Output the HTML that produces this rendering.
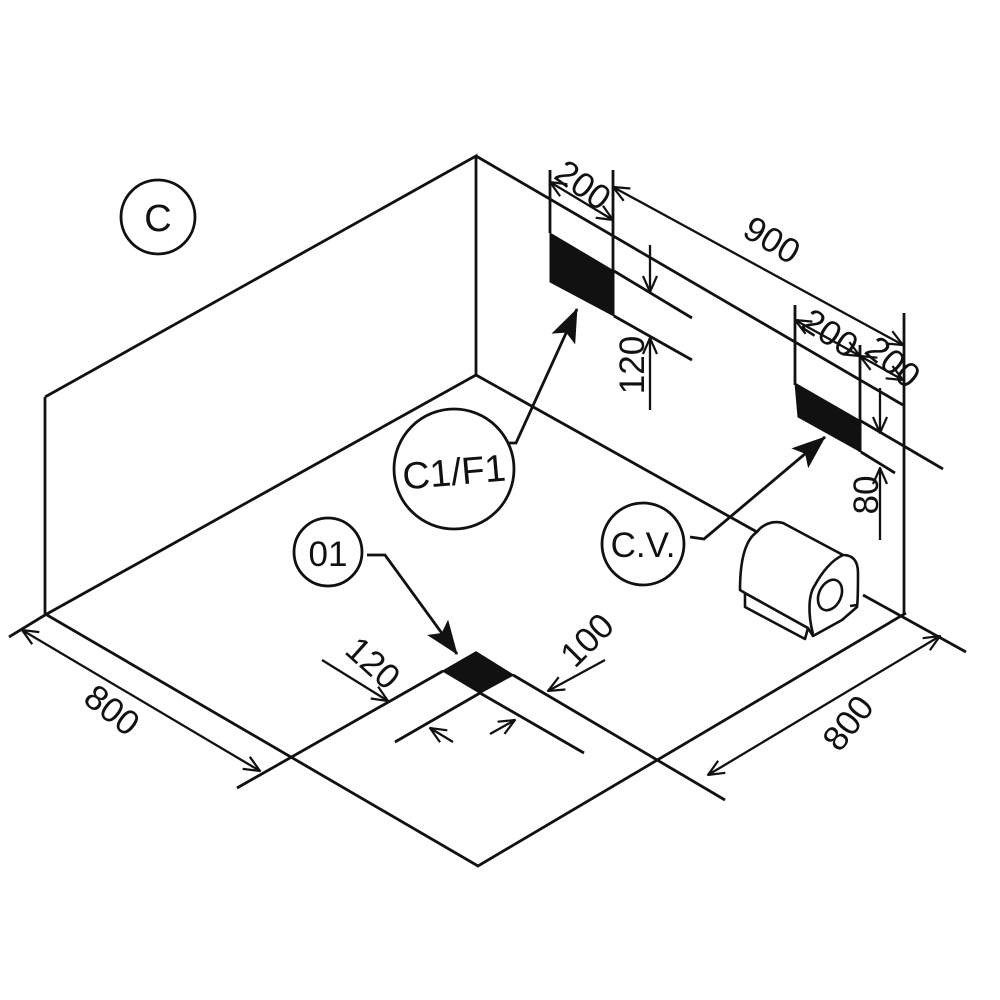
<!DOCTYPE html>
<html><head><meta charset="utf-8"><style>
html,body{margin:0;padding:0;background:#fff;}
svg{display:block;}
text{font-family:"Liberation Sans",sans-serif;fill:#111;}
</style></head><body>
<svg width="1000" height="1000" viewBox="0 0 1000 1000" xmlns="http://www.w3.org/2000/svg">
<defs>
<marker id="oa" viewBox="0 0 20 20" refX="19" refY="10" markerWidth="20" markerHeight="20" markerUnits="userSpaceOnUse" orient="auto-start-reverse">
<path d="M3,3 L19,10 L3,17" fill="none" stroke="#111" stroke-width="2.2"/>
</marker>
<marker id="fa" viewBox="0 0 34 28" refX="33" refY="14" markerWidth="34" markerHeight="28" markerUnits="userSpaceOnUse" orient="auto">
<path d="M0,1 L34,14 L0,27 L7,14 Z" fill="#111"/>
</marker>
</defs>
<g stroke="#111" stroke-width="2.8" fill="none" stroke-linecap="butt">
<path d="M45,397 L476,156 L476,375 M45,397 L45,615"/>
<path d="M476,156 L903,405"/>
<path d="M904,313 L904,614"/>
<path d="M476,375 L45,615 L9,637"/>
<path d="M476,375 L757,532"/>
<path d="M863,595 L966,652"/>
<path d="M47,615 L478,866 L906,613"/>
<path d="M237,788 L443,671"/>
<path d="M480,693 L395,742 M480,693 L584,753 M513,675 L725,800"/>
<polygon points="443,671 476,652 513,675 480,693" fill="#111" stroke="#111" stroke-width="1.5"/>
<polygon points="550,233 614,271 614,316 550,282" fill="#111" stroke="#111" stroke-width="1"/>
<path d="M614,271 L692,318 M614,316 L692,360"/>
<path d="M550,170 L550,233 M613,170 L613,272"/>
<polygon points="795,383 861,421 861,452 798,417" fill="#111" stroke="#111" stroke-width="1"/>
<path d="M861,421 L943,469 M861,452 L895,473"/>
<path d="M795,305 L795,385 M860,345 L860,452"/>
</g>
<g stroke="#111" stroke-width="2.3" fill="none">
<line x1="550" y1="182" x2="613" y2="220" marker-start="url(#oa)" marker-end="url(#oa)"/>
<line x1="613" y1="187" x2="903" y2="345" marker-start="url(#oa)" marker-end="url(#oa)"/>
<line x1="795" y1="320" x2="860" y2="356" marker-start="url(#oa)" marker-end="url(#oa)"/>
<line x1="860" y1="356" x2="903" y2="380" marker-start="url(#oa)" marker-end="url(#oa)"/>
<line x1="650" y1="245" x2="650" y2="292" marker-end="url(#oa)"/>
<line x1="650" y1="410" x2="650" y2="338" marker-end="url(#oa)"/>
<line x1="880" y1="388" x2="880" y2="433" marker-end="url(#oa)"/>
<line x1="880" y1="540" x2="880" y2="468" marker-end="url(#oa)"/>
<line x1="22" y1="630" x2="260" y2="771" marker-start="url(#oa)" marker-end="url(#oa)"/>
<line x1="940" y1="636" x2="708" y2="775" marker-start="url(#oa)" marker-end="url(#oa)"/>
<line x1="322" y1="660" x2="388" y2="701" marker-end="url(#oa)"/>
<line x1="605" y1="660" x2="548" y2="691" marker-end="url(#oa)"/>
<line x1="453" y1="742" x2="430" y2="728" marker-end="url(#oa)"/>
<line x1="490" y1="734" x2="515" y2="720" marker-end="url(#oa)"/>
</g>
<g stroke="#111" stroke-width="2.8" fill="none">
<path d="M508,443 L516,443 L577,309" marker-end="url(#fa)"/>
<path d="M690,537 L704,539 L825,437" marker-end="url(#fa)"/>
<path d="M367,555 L385,555 L457,654" marker-end="url(#fa)"/>
</g>
<g stroke="#111" stroke-width="2.8" fill="#fff">
<circle cx="158" cy="217" r="37"/>
<circle cx="454" cy="469" r="60"/>
<circle cx="643" cy="544" r="41"/>
<circle cx="328" cy="552" r="34"/>
</g>
<g stroke="#111" stroke-width="2.6" fill="#fff" stroke-linejoin="round">
<path d="M745,593 L745,607 L805,639 L808,628 Z"/>
<path d="M745,593 L808,628"/>
<path d="M757,532 C745,540 740,560 740,590 L745,593 L808,628 L813,636 L842,620 L857,607 C858,600 858,585 858,573 C858,560 852,555 843,555 L783,523 C772,520 762,525 757,532 Z"/>
<path d="M813,634 C808,615 808,595 815,585 C822,572 832,560 843,555" fill="none"/>
<ellipse cx="830" cy="595" rx="11" ry="16" transform="rotate(25 830 595)" fill="none"/>
<path d="M850,606 L857,605" fill="none"/>
</g>
<text x="158" y="231" font-size="38" text-anchor="middle">C</text>
<text x="454" y="485" font-size="38" text-anchor="middle" transform="rotate(-5 454 472)">C1/F1</text>
<text x="643" y="557" font-size="35" text-anchor="middle">C.V.</text>
<text x="328" y="566" font-size="35" text-anchor="middle">01</text>
<g font-size="35" text-anchor="middle">
<text x="583" y="197" transform="rotate(36 583 185)">200</text>
<text x="772" y="252" transform="rotate(31 772 240)">900</text>
<text x="830" y="345" transform="rotate(33 830 333)">200</text>
<text x="893" y="374" transform="rotate(40 893 362)">200</text>
<text x="632" y="377" transform="rotate(-90 632 365)">120</text>
<text x="866" y="507" transform="rotate(-90 866 495)">80</text>
<text x="112" y="722" transform="rotate(38 112 710)">800</text>
<text x="848" y="735" transform="rotate(-52 848 723)">800</text>
<text x="373" y="675" transform="rotate(42 373 663)">120</text>
<text x="587" y="652" transform="rotate(-45 587 640)">100</text>
</g>
</svg>
</body></html>
